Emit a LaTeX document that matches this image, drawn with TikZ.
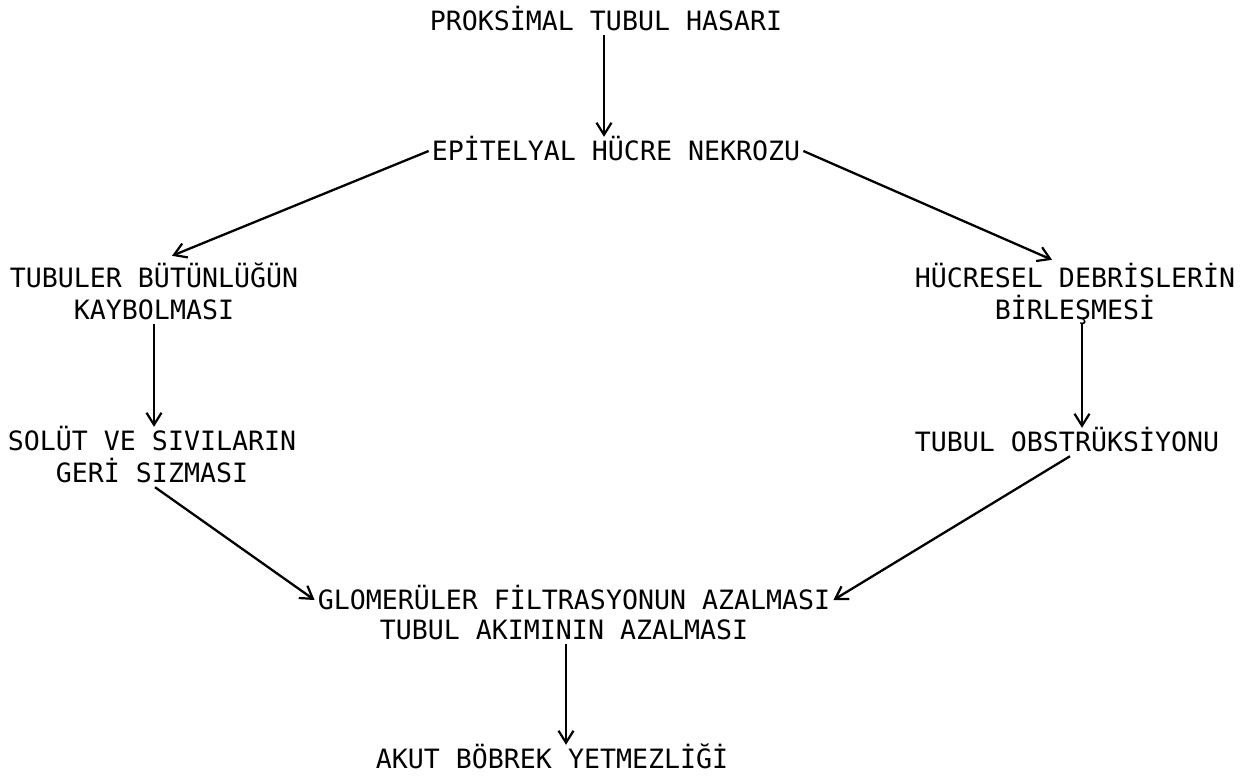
\documentclass[tikz,border=0pt]{standalone}
\usepackage{fontspec}
\usepackage{tikz}
\usetikzlibrary{arrows.meta}
\newfontfamily\typewr{DejaVu Sans Mono}

\begin{document}
\begin{tikzpicture}[x=1pt,y=-1pt,
    every node/.style={font=\typewr\fontsize{26.6}{32}\selectfont, inner sep=3pt,
      text height=20pt, text depth=2pt, align=center},
    twoline/.style={text height=52pt},
    flow/.style={-{Straight Barb[length=12pt,width=15pt,line width=2.2pt]}, line width=2.3pt}]
  \useasboundingbox (0,0) rectangle (1246,779);

    \draw (606,21) node (prox) {PROKSİMAL TUBUL HASARI};
  \draw (616,151) node (epi) {EPİTELYAL HÜCRE NEKROZU};
     \path[flow] ([xshift=-2pt]prox.south) edge ([xshift=-12pt]epi.north);

    \draw (154,294) node[twoline] (tub) {TUBULER BÜTÜNLÜĞÜN\\KAYBOLMASI};
    \draw (152,457) node[twoline] (sol) {SOLÜT VE SIVILARIN\\GERİ SIZMASI};
      \path[flow] (epi.west) edge ([xshift=18pt,yshift=8pt]tub.north);
      \path[flow] (tub.south) edge (tub.south |- sol.north);

     \draw (1075,294) node[twoline] (hue) {HÜCRESEL DEBRİSLERİN\\BİRLEŞMESİ};
     \draw (1067,442) node (obs) {TUBUL OBSTRÜKSİYONU};
      \path[flow] (epi.east) edge ([xshift=-23pt,yshift=4pt]hue.north);
      \path[flow] ([xshift=7pt]hue.south) edge ([xshift=15pt]obs.north);

     \draw (574,600) node (glo) {GLOMERÜLER FİLTRASYONUN AZALMASI};
     \draw (564,630) node (aki) {TUBUL AKIMININ AZALMASI};
     \draw (552,759) node (akut) {AKUT BÖBREK YETMEZLİĞİ};
      \path[flow] ([xshift=3pt]sol.south) edge (glo.west);
      \path[flow] ([xshift=3pt]obs.south) edge (glo.east);
      \path[flow] ([xshift=2pt]aki.south) edge ([xshift=14pt]akut.north);

\end{tikzpicture}
\end{document}
